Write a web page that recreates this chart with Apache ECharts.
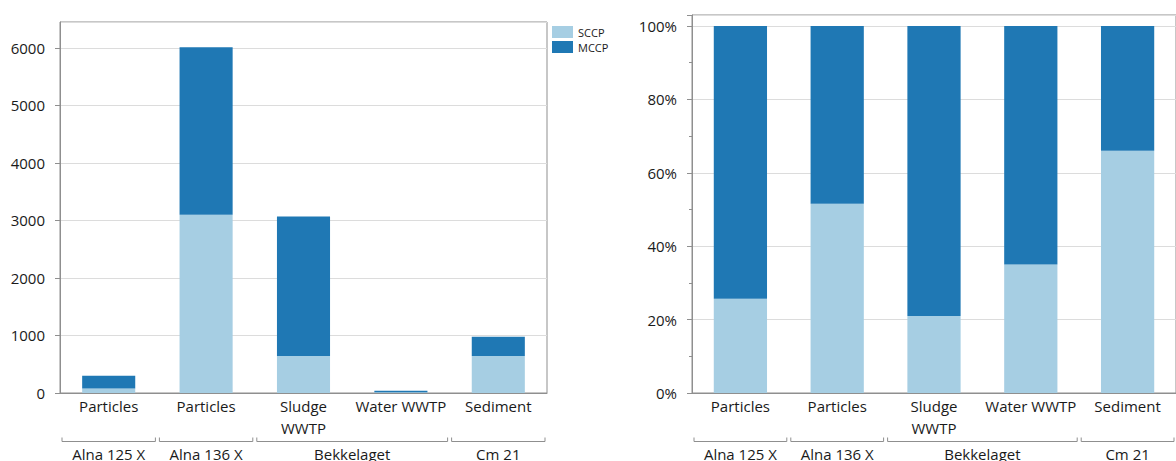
<!DOCTYPE html>
<html>
<head>
<meta charset="utf-8">
<script src="https://cdn.jsdelivr.net/npm/echarts@6/dist/echarts.min.js"></script>
<style>
html,body{margin:0;padding:0;background:#fff;}
#c{width:1176px;height:461px;}
</style>
</head>
<body>
<div id="c"></div>
<script>
// ---- data ----
const categories = ['Particles', 'Particles', 'Sludge\nWWTP', 'Water WWTP', 'Sediment'];
const sccp = [77, 3100, 645, 14, 645];
const mccp = [223, 2910, 2425, 26, 332];
const groupNames = ['Alna 125 X', 'Alna 136 X', 'Bekkelaget', 'Cm 21'];
const groupFirst = [0, 1, 2, 4];
const groupLast = [0, 1, 3, 4];
const seriesNames = ['SCCP', 'MCCP'];
const colors = ['#a6cee3', '#1f78b4'];

// shares for the 100% stacked panel
const sccpShare = sccp.map((v, i) => v / (v + mccp[i]));
const mccpShare = mccp.map((v, i) => v / (v + sccp[i]));

const FONT = '"Open Sans", "Noto Sans", sans-serif';
const TXT = '#1a1a1a';
const AX = '#8f8f8f';
const FS = 15;

const groupData = groupFirst.map((f, i) => [f, groupLast[i], 0]);

function bracketRender(params, api) {
  const first = api.value(0), last = api.value(1);
  const bw = api.size([1, 0])[0];
  const p0 = api.coord([first, 0]);
  const p1 = api.coord([last, 0]);
  const x0 = p0[0] - bw / 2 + 2, x1 = p1[0] + bw / 2 - 2;
  const y = p0[1] + 48.5;
  return {
    type: 'group',
    children: [
      { type: 'polyline', shape: { points: [[x0, y - 4], [x0, y], [x1, y], [x1, y - 4]] },
        style: { stroke: AX, fill: 'none', lineWidth: 1 } },
      { type: 'text', x: (x0 + x1) / 2, y: p0[1] + 61,
        style: { text: groupNames[params.dataIndex], fill: TXT, fontSize: FS, fontFamily: FONT,
                 align: 'center', verticalAlign: 'middle' } }
    ]
  };
}

function xAxisCfg(gi) {
  return {
    type: 'category', gridIndex: gi, data: categories,
    axisLine: { show: true, lineStyle: { color: AX, width: 1 } },
    axisTick: { show: false },
    axisLabel: { interval: 0, color: TXT, fontSize: FS, fontFamily: FONT, margin: 2, lineHeight: 22 }
  };
}

const chart = echarts.init(document.getElementById('c'), null, { renderer: 'svg' });
chart.setOption({
  animation: false,
  textStyle: { fontFamily: FONT },
  legend: {
    data: seriesNames, orient: 'vertical', left: 552, top: 26, padding: 0,
    itemWidth: 21, itemHeight: 12, itemGap: 3, icon: 'rect',
    textStyle: { fontSize: 11, color: TXT, fontFamily: FONT }
  },
  grid: [
    { left: 60, top: 22, width: 487, bottom: 68, show: true, borderColor: AX, borderWidth: 1, containLabel: false },
    { left: 692, top: 15, width: 496, bottom: 68, show: true, borderColor: AX, borderWidth: 1, containLabel: false }
  ],
  xAxis: [xAxisCfg(0), xAxisCfg(1)],
  yAxis: [
    {
      type: 'value', gridIndex: 0, min: 0, max: 6450, interval: 1000,
      axisLine: { show: true, lineStyle: { color: AX } },
      axisTick: { show: true, length: 5, lineStyle: { color: AX } },
      axisLabel: { color: TXT, fontSize: FS, fontFamily: FONT, margin: 15, showMaxLabel: false,
                   formatter: v => String(v) },
      splitLine: { show: true, lineStyle: { color: '#dcdcdc', width: 1 } }
    },
    {
      type: 'value', gridIndex: 1, min: 0, max: 1.03, interval: 0.2,
      axisLine: { show: true, lineStyle: { color: AX } },
      axisTick: { show: true, length: 5, lineStyle: { color: AX } },
      minorTick: { show: true, splitNumber: 2, length: 3, lineStyle: { color: AX } },
      axisLabel: { color: TXT, fontSize: FS, fontFamily: FONT, margin: 15, showMaxLabel: false,
                   formatter: v => Math.round(v * 100) + '%' },
      splitLine: { show: true, lineStyle: { color: '#dcdcdc', width: 1 } }
    }
  ],
  series: [
    { name: 'SCCP', type: 'bar', stack: 'a', xAxisIndex: 0, yAxisIndex: 0, data: sccp,
      barWidth: '54.5%', itemStyle: { color: colors[0] } },
    { name: 'MCCP', type: 'bar', stack: 'a', xAxisIndex: 0, yAxisIndex: 0, data: mccp,
      barWidth: '54.5%', itemStyle: { color: colors[1] } },
    { name: 'SCCP', type: 'bar', stack: 'b', xAxisIndex: 1, yAxisIndex: 1, data: sccpShare,
      barWidth: '55%', itemStyle: { color: colors[0] } },
    { name: 'MCCP', type: 'bar', stack: 'b', xAxisIndex: 1, yAxisIndex: 1, data: mccpShare,
      barWidth: '55%', itemStyle: { color: colors[1] } },
    { type: 'custom', xAxisIndex: 0, yAxisIndex: 0, data: groupData, encode: { x: [0, 1], y: 2 },
      renderItem: bracketRender, silent: true, clip: false, z: 10 },
    { type: 'custom', xAxisIndex: 1, yAxisIndex: 1, data: groupData, encode: { x: [0, 1], y: 2 },
      renderItem: bracketRender, silent: true, clip: false, z: 10 }
  ]
});
</script>
</body>
</html>
